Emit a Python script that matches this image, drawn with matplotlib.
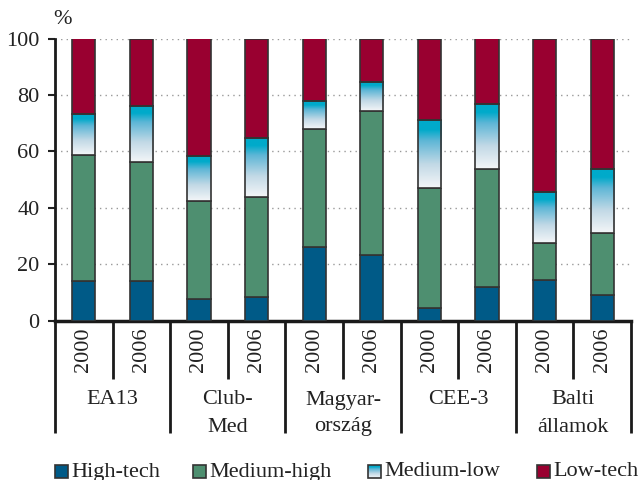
import numpy as np
import matplotlib
matplotlib.use('Agg')
import matplotlib.pyplot as plt
from matplotlib.colors import LinearSegmentedColormap
from matplotlib.patches import Rectangle

# ---------------- data ----------------
years = ['2000', '2006'] * 5
groups = ['EA13', 'Club-\nMed', 'Magyar-\nország', 'CEE-3', 'Balti\nállamok']
series_names = ['High-tech', 'Medium-high', 'Medium-low', 'Low-tech']
high_tech = [14.0, 14.0, 7.7, 8.5, 26.0, 23.3, 4.6, 11.9, 14.2, 9.2]
medium_high = [44.7, 42.2, 34.5, 35.2, 41.9, 51.1, 42.4, 41.7, 13.3, 21.8]
medium_low = [14.6, 19.9, 16.3, 21.0, 9.8, 10.3, 24.1, 23.3, 18.0, 22.9]
low_tech = [26.7, 23.9, 41.5, 35.3, 22.3, 15.3, 28.9, 23.1, 54.5, 46.1]
yticks = [0, 20, 40, 60, 80, 100]

# ---------------- style ----------------
plt.rcParams['font.family'] = ['Liberation Serif', 'DejaVu Serif']
FS = 16
TXT = '#222222'
EDGE = '#333333'
c_ht = '#005A87'
c_mh = '#4E8F70'
c_lt = '#990030'
grad_cmap = LinearSegmentedColormap.from_list(
    'ml', [(0.0, '#F4F6F8'), (0.35, '#C2D9E6'), (0.7, '#5DB6D6'),
           (0.86, '#00AACA'), (1.0, '#00AACA')])
grad = np.linspace(0, 1, 256).reshape(-1, 1)

W, H = 639, 480
fig = plt.figure(figsize=(W / 100, H / 100), dpi=100)
ax_left, ax_right, ax_bot, ax_top = 55, 631, 320.5, 38.5
ax = fig.add_axes([ax_left / W, 1 - ax_bot / H, (ax_right - ax_left) / W,
                   (ax_bot - ax_top) / H])

x = np.arange(len(years))
bw = 0.4
ht = np.array(high_tech)
mh = np.array(medium_high)
ml = np.array(medium_low)
lt = np.array(low_tech)

ax.bar(x, ht, width=bw, color=c_ht, edgecolor=EDGE, linewidth=1.2, zorder=3)
ax.bar(x, mh, width=bw, bottom=ht, color=c_mh, edgecolor=EDGE, linewidth=1.2, zorder=3)
mlbars = ax.bar(x, ml, width=bw, bottom=ht + mh, color='none', edgecolor=EDGE,
                linewidth=1.2, zorder=4)
for p in mlbars:
    x0, y0, w, h = p.get_x(), p.get_y(), p.get_width(), p.get_height()
    ax.imshow(grad, extent=[x0, x0 + w, y0, y0 + h], origin='lower',
              aspect='auto', cmap=grad_cmap, zorder=3, interpolation='bilinear')
ax.bar(x, lt, width=bw, bottom=ht + mh + ml, color=c_lt, edgecolor=EDGE,
       linewidth=1.2, zorder=3)

ax.set_xlim(-0.5, len(years) - 0.5)
ax.set_ylim(0, 100)
ax.set_aspect('auto')
ax.set_yticks(yticks)
ax.set_yticklabels([str(v) for v in yticks], fontsize=FS, color=TXT)
ax.tick_params(axis='y', direction='out', length=5, width=1.5, pad=6, colors=TXT)
ax.tick_params(axis='y', labelcolor=TXT)
ax.set_xticks([])
for v in yticks[1:]:
    ax.axhline(v, color='#999999', linestyle=(0, (1, 3)), linewidth=1.0, zorder=1)
for s in ['top', 'right']:
    ax.spines[s].set_visible(False)
ax.spines['left'].set_linewidth(2.0)
ax.spines['left'].set_color('#1a1a1a')
ax.spines['bottom'].set_linewidth(2.5)
ax.spines['bottom'].set_color('#1a1a1a')

fig.text(62 / W, 1 - 19 / H, '%', ha='center', va='center', fontsize=FS, color=TXT)

# ---------------- multilevel x labels ----------------
tr = ax.get_xaxis_transform()
ah = ax_bot - ax_top


def ay(py):
    return (ax_bot - py) / ah


for i, yr in enumerate(years):
    ax.text(i, ay(350), yr, rotation=90, ha='center', va='center',
            fontsize=FS, color=TXT, transform=tr, clip_on=False)
# short separators within groups
for g in range(len(groups)):
    xs = 2 * g + 0.5
    ax.plot([xs, xs], [0, ay(379)], color='#1a1a1a', lw=2.0, transform=tr,
            clip_on=False, solid_capstyle='butt')
# long separators between groups
for g in range(len(groups) + 1):
    xs = 2 * g - 0.5
    ax.plot([xs, xs], [0, ay(433)], color='#1a1a1a', lw=2.0, transform=tr,
            clip_on=False, solid_capstyle='butt')
for g, name in enumerate(groups):
    for k, line in enumerate(name.split('\n')):
        ax.text(2 * g + 0.5, ay(400 + 27 * k), line, ha='center', va='center',
                fontsize=FS, color=TXT, transform=tr, clip_on=False)

# ---------------- legend ----------------
lax = fig.add_axes([0, 0, 1, 1], zorder=10)
lax.set_xlim(0, W)
lax.set_ylim(H, 0)
lax.axis('off')
lax.patch.set_alpha(0)
leg_x = [55, 193, 368, 537]
leg_colors = [c_ht, c_mh, None, c_lt]
sq = 13
sy = 465
for lx, name, col in zip(leg_x, series_names, leg_colors):
    if col is None:
        lax.imshow(grad, extent=[lx, lx + sq, sy + sq, sy], origin='lower',
                   aspect='auto', cmap=grad_cmap, interpolation='bilinear')
        lax.add_patch(Rectangle((lx, sy), sq, sq, facecolor='none',
                                edgecolor=EDGE, lw=1.2))
    else:
        lax.add_patch(Rectangle((lx, sy), sq, sq, facecolor=col,
                                edgecolor=EDGE, lw=1.2))
    lax.text(lx + sq + 3, sy + sq / 2 + 0.5, name, ha='left', va='center',
             fontsize=FS, color=TXT)
lax.set_xlim(0, W)
lax.set_ylim(H, 0)

fig.savefig('out.png', dpi=100)
